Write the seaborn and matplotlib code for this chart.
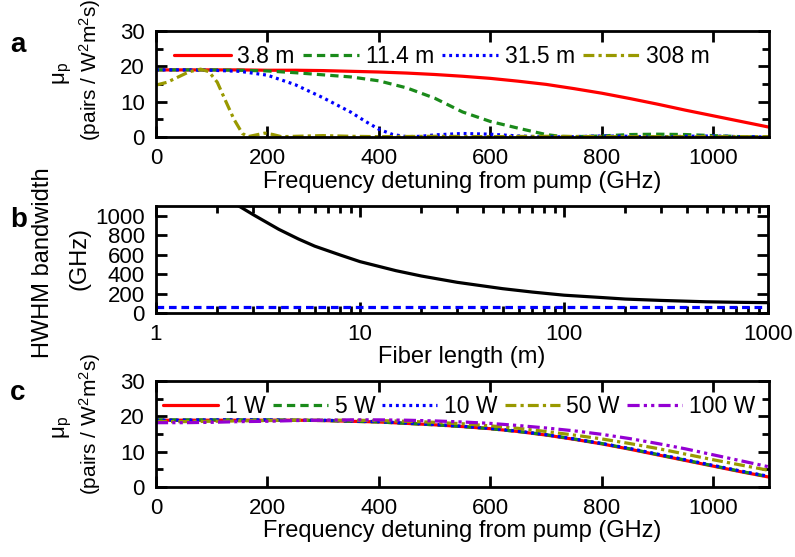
import numpy as np
import pandas as pd
import matplotlib
matplotlib.use("Agg")
import matplotlib.pyplot as plt
import seaborn as sns
from matplotlib.ticker import MultipleLocator, LogLocator, NullFormatter, FixedLocator

# ---------------- data ----------------
# panel a: photon-pair brightness vs detuning for several fiber lengths
freq_red = [0, 50, 100, 150, 200, 250, 300, 350, 400, 450, 500, 550, 600, 650, 700,
            750, 800, 850, 900, 950, 1000, 1050, 1100]
mu_3p8 = [19.0, 19.0, 19.0, 19.0, 18.9, 18.9, 18.8, 18.6, 18.4, 18.1, 17.7, 17.2, 16.6,
          15.8, 14.9, 13.7, 12.4, 10.9, 9.3, 7.6, 6.0, 4.4, 2.8]
freq_green = [0, 50, 100, 150, 200, 250, 300, 350, 400, 450, 500, 550, 600, 650, 700,
              725, 750, 800, 850, 900, 950, 1000, 1050, 1100]
mu_11p4 = [19.0, 19.0, 19.0, 18.9, 18.7, 18.2, 17.6, 17.0, 15.9, 13.9, 11.0, 7.1, 4.4,
           2.5, 0.7, 0.2, 0.1, 0.3, 0.7, 0.8, 0.7, 0.4, 0.1, 0.0]
freq_blue = [0, 50, 100, 150, 200, 250, 300, 350, 375, 400, 425, 450, 475, 500, 550,
             600, 650, 700, 750, 800, 850, 900, 950, 1000, 1050, 1100]
mu_31p5 = [19.0, 19.0, 18.9, 18.6, 17.5, 14.8, 11.1, 7.0, 4.5, 2.2, 0.7, 0.1, 0.2, 0.6,
           1.0, 0.8, 0.3, 0.0, 0.1, 0.3, 0.2, 0.0, 0.2, 0.3, 0.1, 0.0]
freq_olive = [0, 20, 40, 60, 80, 95, 110, 125, 140, 155, 165, 180, 195, 210, 225, 250,
              300, 350, 400, 500, 600, 700, 800, 900, 1000, 1100]
mu_308 = [14.7, 15.5, 17.0, 18.5, 19.2, 18.5, 15.5, 10.2, 5.0, 1.0, 0.1, 0.6, 1.1, 0.7,
          0.1, 0.2, 0.4, 0.2, 0.1, 0.2, 0.1, 0.2, 0.1, 0.1, 0.1, 0.1]
labels_a = ["3.8 m", "11.4 m", "31.5 m", "308 m"]

# panel b: HWHM bandwidth vs fiber length
fiber_len = [2.5, 3, 4, 5, 6, 8, 10, 15, 20, 30, 50, 70, 100, 150, 200, 300, 500, 700, 1000]
hwhm = [1110, 1010, 860, 760, 687, 596, 528, 435, 380, 315, 250, 215, 183, 160, 143,
        129, 115, 110, 106]
fiber_len_ref = [1, 1000]
hwhm_ref = [65, 65]

# panel c: brightness vs detuning for several pump powers
freq_c = [0, 50, 100, 150, 200, 250, 300, 350, 400, 450, 500, 550, 600, 650, 700,
          750, 800, 850, 900, 950, 1000, 1050, 1100]
mu_1W = [18.9, 18.9, 18.9, 18.9, 18.9, 18.9, 18.8, 18.6, 18.4, 18.0, 17.6, 17.1, 16.5,
         15.7, 14.7, 13.5, 12.2, 10.7, 9.1, 7.5, 5.9, 4.3, 2.8]
mu_5W = [19.0, 19.0, 19.0, 19.0, 19.0, 18.9, 18.8, 18.6, 18.4, 18.0, 17.6, 17.1, 16.5,
         15.7, 14.8, 13.6, 12.3, 10.8, 9.2, 7.6, 6.0, 4.4, 2.9]
mu_10W = [18.9, 18.9, 19.0, 19.0, 19.0, 18.9, 18.9, 18.7, 18.5, 18.1, 17.7, 17.2, 16.6,
          15.8, 14.8, 13.6, 12.3, 10.9, 9.3, 7.7, 6.1, 4.5, 3.0]
mu_50W = [18.5, 18.5, 18.6, 18.7, 18.8, 18.9, 18.9, 18.9, 18.8, 18.6, 18.3, 17.9, 17.3,
          16.6, 15.7, 14.7, 13.6, 12.3, 10.9, 9.3, 7.7, 6.2, 4.7]
mu_100W = [18.2, 18.2, 18.3, 18.5, 18.6, 18.8, 18.9, 19.0, 19.0, 18.9, 18.7, 18.4, 18.0,
           17.4, 16.7, 15.9, 14.9, 13.7, 12.3, 10.8, 9.1, 7.4, 5.7]
labels_c = ["1 W", "5 W", "10 W", "50 W", "100 W"]

freq_ticks = [0, 200, 400, 600, 800, 1000]
len_ticks = [1, 10, 100, 1000]
len_ticklabels = ["1", "10", "100", "1000"]

# ---------------- style ----------------
sns.set_style("ticks")
plt.rcParams.update({
    "font.family": ["Liberation Sans", "DejaVu Sans"],
    "mathtext.fontset": "custom",
    "mathtext.rm": "Liberation Sans",
    "mathtext.it": "Liberation Sans:italic",
    "mathtext.bf": "Liberation Sans:bold",
    "text.color": "black",
    "axes.edgecolor": "black",
    "axes.labelcolor": "black",
    "xtick.color": "black",
    "ytick.color": "black",
})

RED = "#ff0000"
GREEN = "#1a8a1a"
BLUE = "#0000ff"
OLIVE = "#999900"
PURPLE = "#9400d3"
LW = 2.3

fig = plt.figure(figsize=(7.95, 5.57), dpi=100)
axa = fig.add_axes([0.1962, 0.7540, 0.7711, 0.1903])
axb = fig.add_axes([0.1962, 0.4381, 0.7698, 0.1921])
axc = fig.add_axes([0.1962, 0.1257, 0.7711, 0.1903])


def style(ax):
    ax.tick_params(which="both", direction="in", top=True, right=True, width=2,
                   labelsize=16, pad=8)
    ax.tick_params(which="major", length=8)
    ax.tick_params(which="minor", length=5)
    for s in ax.spines.values():
        s.set_linewidth(2)
        s.set_color("black")


def draw(ax, x, y, color, dashes, label=None):
    sns.lineplot(x=x, y=y, ax=ax, color=color, linewidth=LW, label=label, legend=False)
    line = ax.lines[-1]
    if dashes is not None:
        line.set_dashes(dashes)
    return line


# ---------------- panel a ----------------
draw(axa, freq_red, mu_3p8, RED, None, labels_a[0])
draw(axa, freq_green, mu_11p4, GREEN, (2.6, 1.6), labels_a[1])
draw(axa, freq_blue, mu_31p5, BLUE, (0.9, 1.2), labels_a[2])
draw(axa, freq_olive, mu_308, OLIVE, (3.4, 1.3, 1.0, 1.3), labels_a[3])
axa.set_xlim(0, 1100)
axa.set_ylim(0, 30)
axa.set_xticks(freq_ticks)
axa.set_yticks([0, 10, 20, 30])
axa.yaxis.set_minor_locator(MultipleLocator(5))
style(axa)
axa.set_xlabel("Frequency detuning from pump (GHz)", fontsize=17, labelpad=1)
axa.set_ylabel("")
axa.legend(loc="center left", bbox_to_anchor=(0.03, 0.757), ncol=4, frameon=False,
           fontsize=16.5, handlelength=2.45, handletextpad=0.3, columnspacing=0.35,
           borderpad=0, borderaxespad=0)

# ---------------- panel b ----------------
draw(axb, fiber_len, hwhm, "black", None)
draw(axb, fiber_len_ref, hwhm_ref, BLUE, (2.4, 1.5))
axb.set_xscale("log")
axb.set_xlim(1, 1000)
axb.set_ylim(0, 1100)
axb.xaxis.set_major_locator(FixedLocator(len_ticks))
axb.set_xticklabels(len_ticklabels)
axb.xaxis.set_minor_locator(LogLocator(base=10, subs=np.arange(2, 10)))
axb.xaxis.set_minor_formatter(NullFormatter())
axb.set_yticks([0, 200, 400, 600, 800, 1000])
style(axb)
axb.set_xlabel("Fiber length (m)", fontsize=17, labelpad=1)
axb.set_ylabel("")

# ---------------- panel c ----------------
draw(axc, freq_c, mu_1W, RED, None, labels_c[0])
draw(axc, freq_c, mu_5W, GREEN, (2.6, 1.6), labels_c[1])
draw(axc, freq_c, mu_10W, BLUE, (0.9, 1.2), labels_c[2])
draw(axc, freq_c, mu_50W, OLIVE, (3.4, 1.3, 1.0, 1.3), labels_c[3])
draw(axc, freq_c, mu_100W, PURPLE, (3.8, 1.3, 1.0, 1.3, 1.0, 1.3), labels_c[4])
axc.set_xlim(0, 1100)
axc.set_ylim(0, 30)
axc.set_xticks(freq_ticks)
axc.set_yticks([0, 10, 20, 30])
axc.yaxis.set_minor_locator(MultipleLocator(5))
style(axc)
axc.set_xlabel("Frequency detuning from pump (GHz)", fontsize=17, labelpad=1)
axc.set_ylabel("")
axc.legend(loc="center left", bbox_to_anchor=(0.012, 0.757), ncol=5, frameon=False,
           fontsize=16.5, handlelength=2.4, handletextpad=0.3, columnspacing=0.3,
           borderpad=0, borderaxespad=0)

# ---------------- y labels & panel letters ----------------
W, H = 795.0, 557.0
def ftext(xpx, ypx, s, **kw):
    fig.text(xpx / W, 1 - ypx / H, s, rotation=90, ha="center", va="center", **kw)

for y_mu, y_unit in ((74, 70), (428, 424)):
    ftext(63, y_mu, "μ$_\\mathrm{p}$", fontsize=16)
    ftext(90, y_unit, "(pairs / W$^2$m$^2$s)", fontsize=15)
ftext(43, 263, "HWHM bandwidth", fontsize=17)
ftext(79, 259, "(GHz)", fontsize=17)

for lab, ypx in (("a", 52), ("b", 227), ("c", 400)):
    fig.text(10 / W, 1 - ypx / H, lab, fontsize=20, fontweight="bold",
             ha="left", va="baseline")

fig.savefig("out.png", dpi=100)
